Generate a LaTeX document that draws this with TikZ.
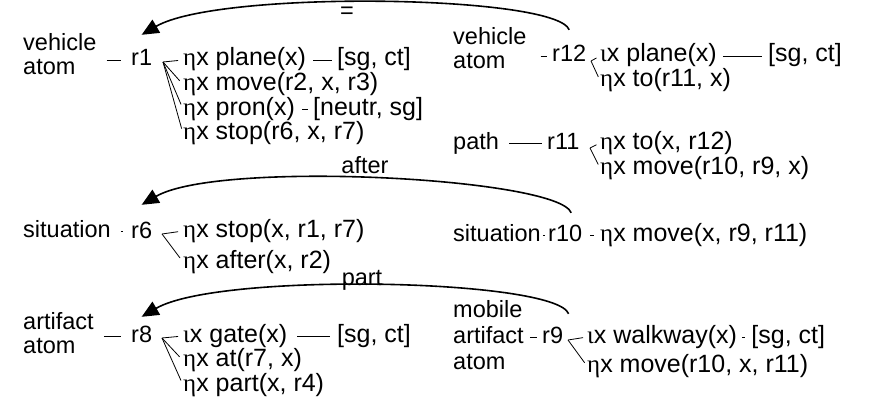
\documentclass[tikz,border=0pt]{standalone}
\usepackage{fontspec}
\setmainfont{Liberation Sans}
\newfontfamily\grk{Liberation Serif}
\usetikzlibrary{arrows.meta,positioning}
\newcommand{\etax}{{\grk η}x}
\newcommand{\iotax}{{\grk ι}x}

\begin{document}
\begin{tikzpicture}[x=1pt,y=-1pt,
    every node/.style={inner sep=0pt,font=\fontsize{23.5}{24}\selectfont},
    lbl/.style={anchor=west,text height=17pt,text depth=5pt},
    itm/.style={lbl,font=\fontsize{25}{24}\selectfont},
    grp/.style={anchor=west,align=left},
    link/.style={line width=0.8pt},
    rel/.style={line width=1.6pt,-{Triangle[length=17pt,width=15pt]}}]
  \useasboundingbox (0,0) rectangle (877,396);
  % upper left: r1
  \node[grp] (vehA) at (23,54) {vehicle\\atom};
  \node[lbl] (r1) at (131,60) {r1};
  \coordinate (r1f) at (163,62);
  \node[itm] (plnA) at (183,60) {\etax\ plane(x)};
  \node[itm] (movA) at (183,84.5) {\etax\ move(r2, x, r3)};
  \node[itm] (prnA) at (183,109) {\etax\ pron(x)};
  \node[itm] (stpA) at (183,133.5) {\etax\ stop(r6, x, r7)};
  \node[itm] (sgA) at (337,60) {[sg, ct]};
  \node[itm] (ntA) at (313,109) {[neutr, sg]};
  % upper right: r12, r11
  \node[grp] (vehB) at (453,48) {vehicle\\atom};
  \node[lbl] (r12) at (552,56) {r12};
  \coordinate (r12f) at (591,61);
  \node[itm] (plnB) at (600,56) {\iotax\ plane(x)};
  \node[itm] (toB) at (600,80.5) {\etax\ to(r11, x)};
  \node[itm] (sgB) at (768,56) {[sg, ct]};
  \node[lbl] (path) at (453,143) {path};
  \node[lbl] (r11) at (547,143) {r11};
  \coordinate (r11f) at (590,148);
  \node[itm] (toC) at (600,143) {\etax\ to(x, r12)};
  \node[itm] (movC) at (600,168) {\etax\ move(r10, r9, x)};
  % middle: r6, r10
  \node[lbl] (sitA) at (23,231) {situation};
  \node[lbl] (r6) at (131,232) {r6};
  \coordinate (r6f) at (162,234);
  \node[itm] (stpB) at (183,231) {\etax\ stop(x, r1, r7)};
  \node[itm] (aftB) at (183,262) {\etax\ after(x, r2)};
  \node[lbl] (sitB) at (453,235) {situation};
  \node[lbl] (r10) at (548,235) {r10};
  \node[itm] (movD) at (600,235) {\etax\ move(x, r9, r11)};
  % lower: r8, r9
  \node[grp] (artA) at (23,333) {artifact\\atom};
  \node[lbl] (r8) at (131,336) {r8};
  \coordinate (r8f) at (162,338);
  \node[itm] (gate) at (183,336) {\iotax\ gate(x)};
  \node[itm] (atE) at (183,360.5) {\etax\ at(r7, x)};
  \node[itm] (prtE) at (183,385) {\etax\ part(x, r4)};
  \node[itm] (sgE) at (337,336) {[sg, ct]};
  \node[grp] (artB) at (453,335) {mobile\\[2pt]artifact\\[2pt]atom};
  \node[lbl] (r9) at (542,337) {r9};
  \coordinate (r9f) at (568,340);
  \node[itm] (walk) at (587,337) {\iotax\ walkway(x)};
  \node[itm] (movF) at (587,366) {\etax\ move(r10, x, r11)};
  \node[itm, right=14pt of walk] (sgF) {[sg, ct]};
  % relation labels
  \node (eq) at (347,13) {=};
  \node (after) at (365,165) {after};
  \node (part) at (362,280) {part};

  % attribute links
  \draw[link,shorten <=10pt,shorten >=10pt] (vehA.east |- r1.west) -- (r1.west);
  \draw[link,shorten <=14pt,shorten >=5pt] (vehB.east |- r12.west) -- (r12.west);
  \draw[link,shorten <=10pt,shorten >=5pt] (path) -- (r11);
  \draw[link,shorten <=10pt,shorten >=8pt] (sitA) -- (sitA -| r6.west);
  \draw[link,shorten <=2pt,shorten >=3pt] (sitB) -- (r10);
  \draw[link,shorten <=8pt,shorten >=6pt] (r10) -- (movD);
  \draw[link,shorten <=10pt,shorten >=10pt] (artA.east |- r8.west) -- (r8.west);
  \draw[link,shorten <=6pt,shorten >=5pt] (artB.east |- r9.west) -- (r9.west);
  \draw[link,shorten <=7pt,shorten >=5pt] (plnA) -- (sgA);
  \draw[link,shorten <=7pt,shorten >=5pt] (prnA) -- (ntA);
  \draw[link,shorten <=6pt,shorten >=6pt] (plnB) -- (sgB);
  \draw[link,shorten <=10pt,shorten >=7pt] (gate) -- (sgE);
  \draw[link,shorten <=5pt,shorten >=6pt] (walk) -- (sgF);
  % fans
  \foreach \t in {plnA,movA,prnA,stpA} \draw[link,shorten >=5pt] (r1f) -- (\t.west);
  \foreach \t in {plnB,toB} \draw[link,shorten >=4pt] (r12f) -- (\t.west);
  \foreach \t in {toC,movC} \draw[link,shorten >=4pt] (r11f) -- (\t.west);
  \foreach \t in {stpB,aftB} \draw[link,shorten >=5pt] (r6f) -- (\t.west);
  \foreach \t in {gate,atE,prtE} \draw[link,shorten >=5pt] (r8f) -- (\t.west);
  \foreach \t in {walk,movF} \draw[link,shorten >=4pt] (r9f) -- (\t.west);
  % relations between situations
  \draw[rel] ([yshift=15pt]r12.north) .. controls +(-13,-35) and +(77,-45) .. ([yshift=14pt]r1.north);
  \draw[rel] ([xshift=6pt,yshift=11pt]r10.north) .. controls +(-13,-35) and +(77,-45) .. ([yshift=16pt]r6.north);
  \draw[rel] ([xshift=16pt,yshift=12pt]r9.north) .. controls +(-13,-35) and +(77,-45) .. ([yshift=8pt]r8.north);
\end{tikzpicture}
\end{document}
